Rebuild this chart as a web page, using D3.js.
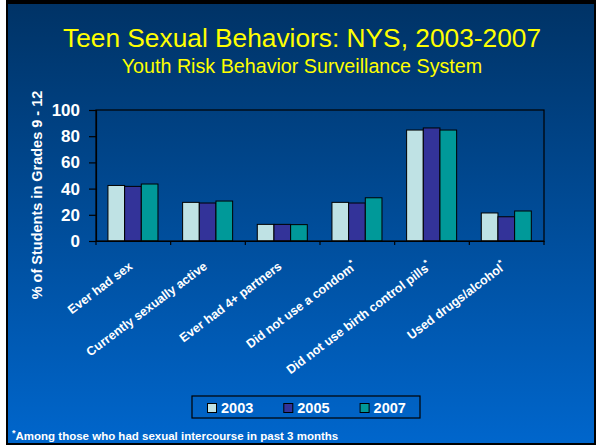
<!DOCTYPE html>
<html>
<head>
<meta charset="utf-8">
<script src="https://cdn.jsdelivr.net/npm/d3@7"></script>
<style>
  body { margin: 0; background: #fff; }
  svg { display: block; font-family: Arial, "Liberation Sans", sans-serif; }
</style>
</head>
<body>
<svg width="596" height="445"></svg>
<script>
// data
var categories = ["Ever had sex", "Currently sexually active", "Ever had 4+ partners",
                  "Did not use a condom*", "Did not use birth control pills*", "Used drugs/alcohol*"];
var years = ["2003", "2005", "2007"];
var v2003 = [42.4, 29.5, 12.7, 29.5, 84.7, 21.4];
var v2005 = [41.7, 29.0, 12.7, 29.0, 86.3, 18.5];
var v2007 = [43.5, 30.5, 12.5, 33.0, 84.7, 22.9];
var yTicks = [0, 20, 40, 60, 80, 100];
var colors = ["#bfe2e4", "#333399", "#009999"];

var series = [v2003, v2005, v2007];

var svg    = d3.select("svg"),
    width  = +svg.attr("width"),
    height = +svg.attr("height");

var plot = {left: 96, right: 544, top: 110, bottom: 241};

// slide background
var grad = svg.append("defs").append("linearGradient")
    .attr("id", "bg").attr("x1", 0).attr("y1", 0).attr("x2", 0).attr("y2", 1);
grad.append("stop").attr("offset", "0%").attr("stop-color", "#003366");
grad.append("stop").attr("offset", "100%").attr("stop-color", "#0066cc");

svg.append("rect").attr("x", 6).attr("y", 0).attr("width", width - 6).attr("height", height).attr("fill", "#000");
svg.append("rect").attr("x", 8).attr("y", 4).attr("width", width - 10).attr("height", height - 6).attr("fill", "url(#bg)");

// titles
svg.append("text")
    .attr("x", 302).attr("y", 47)
    .attr("text-anchor", "middle")
    .attr("fill", "#ffff00")
    .style("font-size", "26.3px")
    .text("Teen Sexual Behaviors: NYS, 2003-2007");
svg.append("text")
    .attr("x", 302).attr("y", 73)
    .attr("text-anchor", "middle")
    .attr("fill", "#ffff00")
    .style("font-size", "19.7px")
    .text("Youth Risk Behavior Surveillance System");

// scales
var x0 = d3.scaleBand().domain(categories).range([plot.left, plot.right]);
var x1 = d3.scaleBand().domain(years)
    .range([x0.bandwidth() * 0.16, x0.bandwidth() * 0.83]);
var yScale = d3.scaleLinear().domain([0, 100]).range([plot.bottom, plot.top]);

// bars
var groups = svg.append("g").selectAll("g")
    .data(categories)
  .enter().append("g")
    .attr("transform", function(d) { return "translate(" + x0(d) + ",0)"; });

groups.selectAll("rect")
    .data(function(d, i) { return years.map(function(y, j) { return {year: y, value: series[j][i], k: j}; }); })
  .enter().append("rect")
    .attr("x", function(d) { return x1(d.year); })
    .attr("y", function(d) { return yScale(d.value); })
    .attr("width", x1.bandwidth())
    .attr("height", function(d) { return yScale(0) - yScale(d.value); })
    .attr("fill", function(d) { return colors[d.k]; })
    .attr("stroke", "#000")
    .attr("stroke-width", 1);

// plot frame
svg.append("rect")
    .attr("x", plot.left).attr("y", plot.top)
    .attr("width", plot.right - plot.left).attr("height", plot.bottom - plot.top)
    .attr("fill", "none").attr("stroke", "#000").attr("stroke-width", 1.2);

// y axis
var yAxis = d3.axisLeft(yScale).tickValues(yTicks).tickSize(7).tickPadding(9);
var gY = svg.append("g")
    .attr("transform", "translate(" + plot.left + ",0)")
    .call(yAxis);
gY.select(".domain").attr("stroke", "#000").attr("stroke-width", 1.2);
gY.selectAll(".tick line").attr("stroke", "#000").attr("stroke-width", 1.2);
gY.selectAll(".tick text")
    .attr("fill", "#fff")
    .style("font-size", "17px")
    .style("font-weight", "bold")
    .style("font-family", "Arial, 'Liberation Sans', sans-serif");

// x axis ticks at category boundaries
var xAxis = d3.axisBottom(x0).tickSize(0).tickFormat("");
var gX = svg.append("g")
    .attr("transform", "translate(0," + plot.bottom + ")")
    .call(xAxis);
gX.select(".domain").attr("stroke", "#000").attr("stroke-width", 1.2);
gX.selectAll(".bound")
    .data(categories.concat([null]))
  .enter().append("line")
    .attr("x1", function(d, i) { return plot.left + i * x0.step(); })
    .attr("x2", function(d, i) { return plot.left + i * x0.step(); })
    .attr("y1", 0).attr("y2", 4)
    .attr("stroke", "#000").attr("stroke-width", 1.2);

// rotated category labels
var labels = svg.append("g").selectAll("text")
    .data(categories)
  .enter().append("text")
    .attr("transform", function(d) {
      return "translate(" + (x0(d) + x0.bandwidth() / 2) + "," + 268 + ") rotate(-37)";
    })
    .attr("text-anchor", "end")
    .attr("fill", "#fff")
    .style("font-size", "12.5px")
    .style("font-weight", "bold");
labels.append("tspan").text(function(d) { return d.replace("*", ""); });
labels.filter(function(d) { return d.indexOf("*") >= 0; })
  .append("tspan")
    .attr("dy", -5)
    .style("font-size", "9px")
    .text("*");

// y axis title
svg.append("text")
    .attr("transform", "translate(42,195) rotate(-90)")
    .attr("text-anchor", "middle")
    .attr("fill", "#fff")
    .style("font-size", "14.5px")
    .style("font-weight", "bold")
    .text("% of Students in Grades 9 - 12");

// legend
var legend = svg.append("g");
legend.append("rect")
    .attr("x", 192).attr("y", 396).attr("width", 228).attr("height", 22)
    .attr("fill", "none").attr("stroke", "#000").attr("stroke-width", 1.2);
var items = legend.selectAll("g.item")
    .data(years)
  .enter().append("g")
    .attr("transform", function(d, i) { return "translate(" + (207.5 + i * 76.3) + ",403.5)"; });
items.append("rect")
    .attr("width", 9).attr("height", 9)
    .attr("fill", function(d, i) { return colors[i]; })
    .attr("stroke", "#000").attr("stroke-width", 1);
items.append("text")
    .attr("x", 13.5).attr("y", 9.3)
    .attr("fill", "#fff")
    .style("font-size", "14.5px")
    .style("font-weight", "bold")
    .text(function(d) { return d; });

// footnote
var foot = svg.append("text")
    .attr("x", 12).attr("y", 440)
    .attr("fill", "#fff")
    .style("font-weight", "bold")
    .style("font-size", "11.5px");
foot.append("tspan").attr("dy", -4).style("font-size", "9px").text("*");
foot.append("tspan").attr("dy", 4).text("Among those who had sexual intercourse in past 3 months");
</script>
</body>
</html>
